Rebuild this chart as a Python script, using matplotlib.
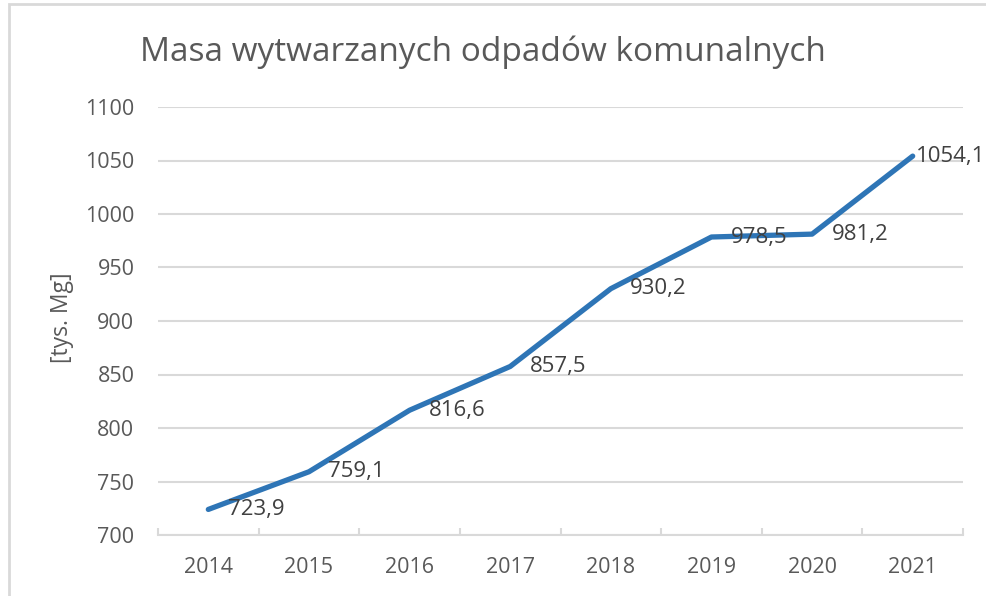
import numpy as np
import matplotlib.pyplot as plt
from matplotlib.patches import Rectangle

years = ["2014", "2015", "2016", "2017", "2018", "2019", "2020", "2021"]
mass = [723.9, 759.1, 816.6, 857.5, 930.2, 978.5, 981.2, 1054.1]
yticks = [700, 750, 800, 850, 900, 950, 1000, 1050, 1100]

plt.rcParams['font.family'] = ['Open Sans', 'DejaVu Sans']

fig = plt.figure(figsize=(9.87, 5.96), dpi=100)
ax = fig.add_axes([158/987, 1 - 535/596, (963 - 158)/987, (535 - 107)/596])

# frame of the chart (cropped at right and bottom)
fig.patches.append(Rectangle((9/987, -0.1), 1.2, 1.1 - 4/596,
                             transform=fig.transFigure, fill=False,
                             edgecolor='#d9d9d9', linewidth=2))

x = np.arange(len(years))
ax.plot(x, mass, color='#2e75b6', linewidth=3.8, solid_capstyle='round',
        solid_joinstyle='round', zorder=3)

for xi, v in zip(x, mass):
    lbl = f"{v:.1f}".replace('.', ',')
    # last label sits tight against the point so it stays inside the chart
    dx = 2 if xi == len(years) - 1 else 14
    ax.annotate(lbl, (xi, v), xytext=(dx, 0), textcoords='offset points',
                ha='left', va='center', fontsize=16, color='#404040', zorder=4)

ax.set_xlim(-0.5, len(years) - 0.5)
ax.set_ylim(700, 1100)
ax.set_yticks(yticks)
ax.set_yticklabels([str(t) for t in yticks])
ax.set_xticks(x)
ax.set_xticklabels(years)
ax.set_xticks(np.arange(-0.5, len(years)), minor=True)

ax.grid(axis='y', color='#d9d9d9', linewidth=1.5)
ax.set_axisbelow(True)
for s in ['top', 'right', 'left']:
    ax.spines[s].set_visible(False)
ax.spines['bottom'].set_color('#d9d9d9')
ax.spines['bottom'].set_linewidth(1.5)

ax.tick_params(axis='y', length=0, pad=17, labelsize=15.5, labelcolor='#595959')
ax.tick_params(axis='x', which='major', length=0, pad=16, labelsize=15.5,
               labelcolor='#595959')
ax.tick_params(axis='x', which='minor', direction='in', length=5,
               width=1.5, color='#d9d9d9')

fig.text(62/987, 1 - 318/596, "[tys. Mg]", rotation=90, ha='center',
         va='center', fontsize=16.5, color='#595959')
fig.text(483/987, 1 - 52/596, "Masa wytwarzanych odpadów komunalnych",
         ha='center', va='center', fontsize=24, color='#595959')

fig.savefig("out.png", dpi=100)
